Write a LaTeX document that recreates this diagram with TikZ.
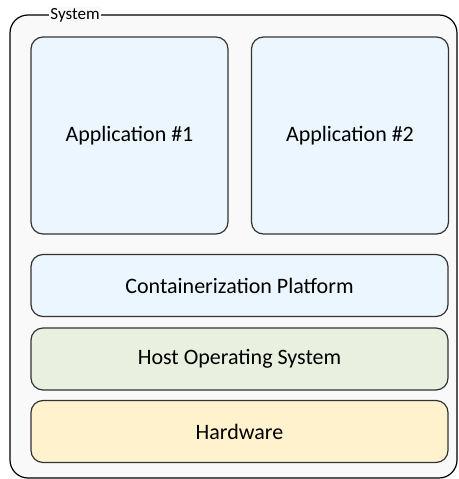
\documentclass[tikz,border=0pt]{standalone}
\usepackage{fontspec}
\setmainfont{Carlito}
\definecolor{appblue}{HTML}{EBF6FF}
\definecolor{hostgreen}{HTML}{E9F0DF}
\definecolor{hwyellow}{HTML}{FFF2CC}
\definecolor{sysgray}{HTML}{F9F9F9}
\definecolor{edgegray}{HTML}{333333}

\begin{document}
\begin{tikzpicture}[x=1pt,y=-1pt,
  layer/.style={draw=edgegray,line width=1.2pt,rounded corners=12pt,
    minimum width=417pt,minimum height=62pt,font=\fontsize{22}{25}\selectfont},
  app/.style={layer,minimum width=197pt,minimum height=197pt}]
  \useasboundingbox (0,0) rectangle (458,479);
  \draw[fill=sysgray,line width=1.2pt,rounded corners=18pt] (10,15) rectangle (457,478);
  \node[fill=sysgray,inner sep=1pt,font=\fontsize{17}{19}\selectfont] (sys) at (75,15) {System};
  \node[app,fill=appblue] (app1) at (129.5,135.5) {Application \#1};
  \node[app,fill=appblue] (app2) at (350,135.5) {Application \#2};
  \node[layer,fill=appblue] (cont) at (239.5,285.5) {Containerization Platform};
  \node[layer,fill=hostgreen] (host) at (239.5,359) {Host Operating System};
  \node[layer,fill=hwyellow] (hw) at (239.5,431.5) {Hardware};
\end{tikzpicture}
\end{document}
